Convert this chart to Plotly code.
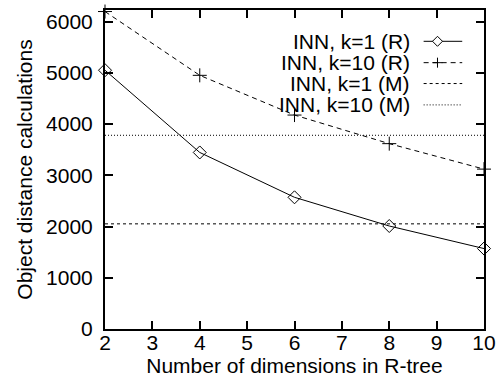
import plotly.graph_objects as go

dims = [2, 4, 6, 8, 10]
inn_k1_r = [5050, 3445, 2570, 2010, 1570]
inn_k10_r = [6195, 4950, 4175, 3617, 3120]
inn_k1_m = 2052
inn_k10_m = 3780
x_span = [2, 10]

names = ["INN, k=1 (R)", "INN, k=10 (R)", "INN, k=1 (M)", "INN, k=10 (M)"]
dashes = ["solid", "5px,4px", "3px,3px", "1px,2px"]

FONT = "Liberation Sans, Arial, sans-serif"
FS = 21

fig = go.Figure()
fig.add_trace(go.Scatter(x=dims, y=inn_k1_r, mode="lines+markers",
                         line=dict(color="black", width=1, dash=dashes[0]),
                         marker=dict(symbol="diamond-open", size=10, color="black", line=dict(width=1)),
                         showlegend=False, cliponaxis=False))
fig.add_trace(go.Scatter(x=dims, y=inn_k10_r, mode="lines+markers",
                         line=dict(color="black", width=1, dash=dashes[1]),
                         marker=dict(symbol="cross-thin", size=10, color="black", line=dict(width=1, color="black")),
                         showlegend=False, cliponaxis=False))
fig.add_trace(go.Scatter(x=x_span, y=[inn_k1_m] * 2, mode="lines",
                         line=dict(color="black", width=1, dash=dashes[2]), showlegend=False))
fig.add_trace(go.Scatter(x=x_span, y=[inn_k10_m] * 2, mode="lines",
                         line=dict(color="black", width=1, dash=dashes[3]), showlegend=False))

# manual gnuplot-style legend (text left, key sample right)
L, R, T, B = 105, 488, 8, 329
W, H = R - L, B - T
def px(x): return (x - L) / W
def py(y): return (B - y) / H

ys = [39.5, 61, 82, 103.5]
annotations = []
shapes = []
for i, (nm, d) in enumerate(zip(names, dashes)):
    annotations.append(dict(text=nm, x=px(415), y=py(ys[i]), xref="paper", yref="paper",
                            xanchor="right", yanchor="middle", showarrow=False,
                            font=dict(family=FONT, size=FS, color="black")))
    shapes.append(dict(type="line", xref="paper", yref="paper",
                       x0=px(427), x1=px(466), y0=py(ys[i]), y1=py(ys[i]),
                       line=dict(color="black", width=1, dash=d)))
# legend key markers
shapes.append(dict(type="path", xref="paper", yref="paper", xsizemode="pixel", ysizemode="pixel",
                   xanchor=px(441), yanchor=py(ys[0]),
                   path="M -5 0 L 0 5 L 5 0 L 0 -5 Z", fillcolor="white",
                   line=dict(color="black", width=1)))
shapes.append(dict(type="path", xref="paper", yref="paper", xsizemode="pixel", ysizemode="pixel",
                   xanchor=px(441), yanchor=py(ys[1]),
                   path="M -5 0 L 5 0 M 0 -5 L 0 5",
                   line=dict(color="black", width=1)))

axis_common = dict(showline=True, linecolor="black", linewidth=2, mirror="ticks",
                   ticks="inside", ticklen=8, tickwidth=1.5, tickcolor="black",
                   showgrid=False, zeroline=False,
                   tickfont=dict(family=FONT, size=FS, color="black"))

fig.update_layout(
    width=504, height=386,
    margin=dict(l=L, r=504 - R, t=T, b=386 - B),
    paper_bgcolor="white", plot_bgcolor="white",
    xaxis=dict(range=[2, 10], dtick=1, tick0=2, ticklabelstandoff=-6,
               title=dict(text="Number of dimensions in R-tree", standoff=3,
                          font=dict(family=FONT, size=FS, color="black")),
               **axis_common),
    yaxis=dict(range=[0, 6225], dtick=1000, tick0=0, ticklabelstandoff=6,
               title=dict(text="Object distance calculations", standoff=8,
                          font=dict(family=FONT, size=FS, color="black")),
               **axis_common),
    annotations=annotations, shapes=shapes,
)

fig.write_html("out.html")
